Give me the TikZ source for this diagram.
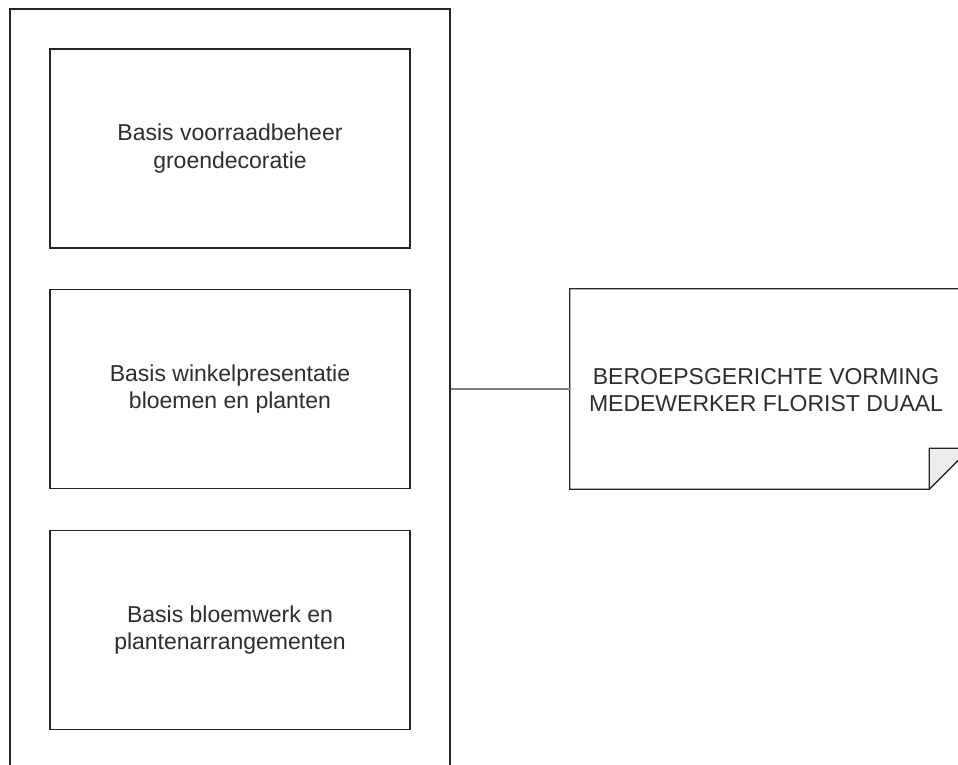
\documentclass[tikz,border=0pt]{standalone}
\usepackage{fontspec}
\setmainfont{Liberation Sans}
\begin{document}
\begin{tikzpicture}[x=1pt,y=-1pt,
  lbl/.style={align=center,text=black!82,font=\fontsize{23pt}{27.3pt}\selectfont},
  box/.style={lbl,draw=black!85,line width=1.2pt,fill=white,minimum width=360pt,minimum height=199pt,inner sep=0pt},
  conn/.style={draw=black!50,line width=1.3pt}]
\useasboundingbox (0,0) rectangle (958,764);
\clip (0,0) rectangle (958,764);
\fill[white] (0,0) rectangle (958,764);
\node[draw=black!85,line width=1.2pt,minimum width=440pt,minimum height=780pt,inner sep=0pt] (outer) at (230,399) {};
\node[box] (b1) at (230,148.5) {Basis voorraadbeheer\\groendecoratie};
\node[box] (b2) at (230,389) {Basis winkelpresentatie\\bloemen en planten};
\node[box] (b3) at (230,630) {Basis bloemwerk en\\plantenarrangementen};
\node[minimum width=400pt,minimum height=200pt,inner sep=0pt] (note) at (770,389) {};
\draw[black!85,line width=1.2pt,fill=white] (note.north west) -- (note.north east) -- ([yshift=41pt]note.south east) -- ([xshift=-41pt]note.south east) -- (note.south west) -- cycle;
\draw[black!85,line width=1.2pt,fill=black!7,line join=round] ([xshift=-41pt]note.south east) -- ([xshift=-41pt,yshift=41pt]note.south east) -- ([yshift=41pt]note.south east) -- cycle;
\node[lbl] (nt) at (766,390) {BEROEPSGERICHTE VORMING\\MEDEWERKER FLORIST DUAAL};
\draw[conn] (outer.east |- note.west) -- (note.west);
\end{tikzpicture}
\end{document}
